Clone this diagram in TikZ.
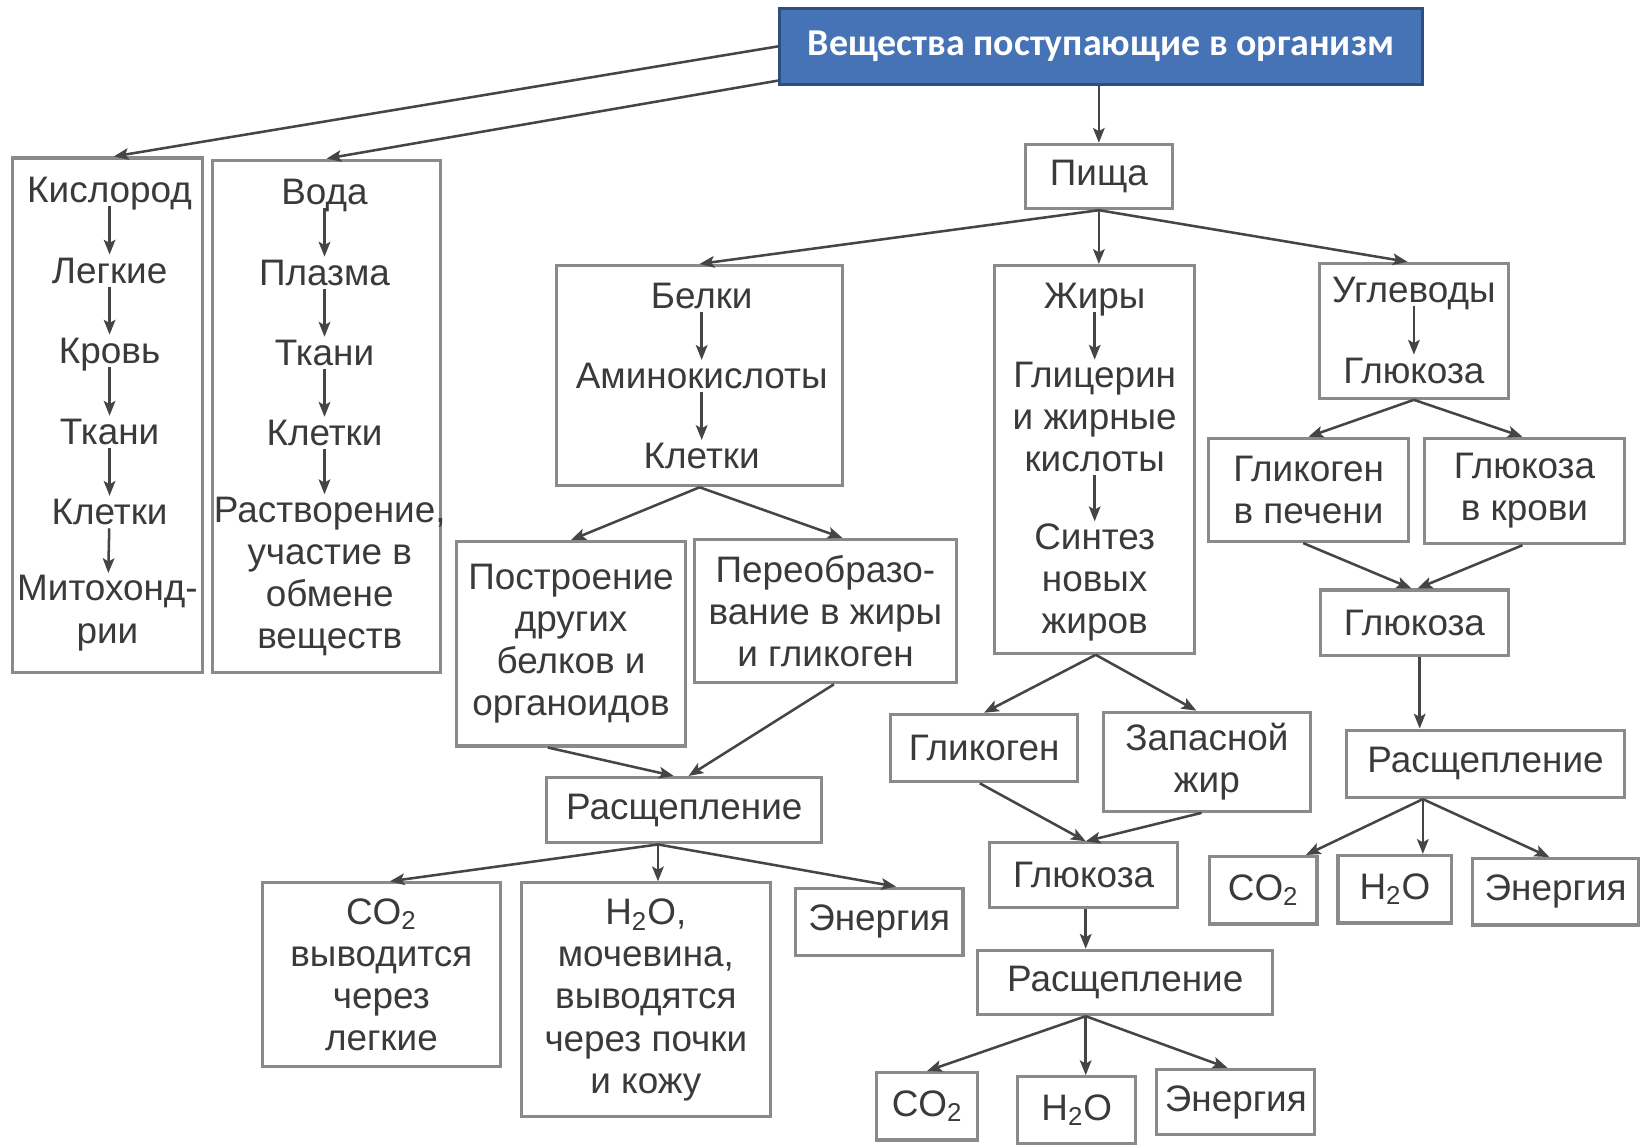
\documentclass[tikz,border=0pt]{standalone}
\usepackage{fontspec}
\setmainfont{Liberation Sans}
\newfontfamily\topfont{Carlito}
\usetikzlibrary{arrows.meta,calc}
\definecolor{bord}{HTML}{8A8A8A}
\definecolor{txt}{HTML}{3A3A3A}
\definecolor{arr}{HTML}{454545}
\definecolor{topfill}{HTML}{4673B6}
\definecolor{topdraw}{HTML}{2E4E7E}
\newcommand\mkbox[7]{\node[bx,#1,minimum width={(#5-#3)*0.5pt},minimum height={(#6-#4)*0.5pt}] (#2) at ({(#3+#5)/2},{(#4+#6)/2}) {#7};}
\begin{document}
\begin{tikzpicture}[x=0.5pt,y=-0.5pt,
 bx/.style={draw=bord,line width=1.5pt,inner sep=0pt,text=txt,align=center,font=\fontsize{17.5}{20}\selectfont},
 lbl/.style={inner sep=1pt,text=txt,align=center,font=\fontsize{17.5}{20}\selectfont},
 one/.style={lbl,text height=12.5pt,text depth=0.5pt},
 ar/.style={draw=arr,line width=1.2pt,-{Stealth[length=7pt,width=5.5pt,inset=1.5pt]}},
 topbx/.style={fill=topfill,draw=topdraw,line width=1.5pt,text=white,font=\topfont\bfseries\fontsize{18}{20}\selectfont},
]
\useasboundingbox (0,0) rectangle (1568,1087);
\fill[white] (0,0) rectangle (1568,1087);

% top
\mkbox{topbx}{top}{740}{8}{1350}{80}{Вещества поступающие в организм}

% oxygen column
\mkbox{}{kis}{12}{150}{192}{638}{}
\node[one] (k1) at (104,180) {Кислород};
\node[one] (k2) at (104,257) {Легкие};
\node[one] (k3) at (104,333) {Кровь};
\node[one] (k4) at (104,410) {Ткани};
\node[one] (k5) at (104,486) {Клетки};
\node[lbl] (k6) at (102,582) {Митохонд-\\рии};
\draw[ar] (k1) -- (k2);
\draw[ar] (k2) -- (k3);
\draw[ar] (k3) -- (k4);
\draw[ar] (k4) -- (k5);
\draw[ar] (k5) -- (k6);

% water column
\mkbox{}{vod}{202}{152}{418}{638}{}
\node[one] (v1) at (308,182) {Вода};
\node[one] (v2) at (308,259) {Плазма};
\node[one] (v3) at (308,335) {Ткани};
\node[one] (v4) at (308,411) {Клетки};
\node[lbl] (v5) at (313,547) {Растворение,\\участие в\\обмене\\веществ};
\draw[ar] (v1) -- (v2);
\draw[ar] (v2) -- (v3);
\draw[ar] (v3) -- (v4);
\draw[ar] (v4) -- (v4 |- v5.north);

\draw[ar] (top.west) -- ($(kis.north)+(6,0)$);
\draw[ar] ($(top.south west)+(0,-5)$) -- (vod.north);

% food
\mkbox{}{pis}{973}{137}{1113}{198}{Пища}
\draw[ar] (top.south -| pis.north) -- (pis.north);

% proteins
\mkbox{}{bel}{528}{252}{800}{461}{}
\node[one] (b1) at (666,281) {Белки};
\node[one] (b2) at (666,357) {Аминокислоты};
\node[one] (b3) at (666,433) {Клетки};
\draw[ar] (b1) -- (b2);
\draw[ar] (b2) -- (b3);

% fats
\mkbox{}{zir}{944}{252}{1134}{620}{}
\node[one] (z1) at (1039,281) {Жиры};
\node[lbl] (z2) at (1039,396) {Глицерин\\и жирные\\кислоты};
\node[lbl] (z3) at (1039,553) {Синтез\\новых\\жиров};
\draw[ar] (z1) -- (z2);
\draw[ar] (z2) -- (z3);

% carbs
\mkbox{}{ugl}{1252}{250}{1432}{378}{}
\node[one] (u1) at (1342,275) {Углеводы};
\node[one] (u2) at (1342,352) {Глюкоза};
\draw[ar] (u1) -- (u2);

\draw[ar] (pis.south) -- (bel.north);
\draw[ar] (pis.south) -- (pis.south |- zir.north);
\draw[ar] (pis.south) -- ($(ugl.north)+(-6,0)$);

% protein branch
\mkbox{}{pos}{433}{514}{651}{708}{Построение\\других\\белков и\\органоидов}
\mkbox{}{per}{659}{512}{908}{648}{Переобразо-\\вание в жиры\\и гликоген}
\draw[ar] (bel.south) -- (pos.north);
\draw[ar] (bel.south) -- ($(per.north)+(16,0)$);
\mkbox{}{ra1}{519}{738}{780}{800}{Расщепление}
\draw[ar] ($(pos.south)+(-22,0)$) -- ($(ra1.north)+(-10,0)$);
\draw[ar] ($(per.south)+(8,0)$) -- ($(ra1.north)+(4,0)$);
\mkbox{}{c1}{249}{838}{475}{1012}{CO\textsubscript{2}\\выводится\\через\\легкие}
\mkbox{}{h1}{495}{838}{731}{1060}{H\textsubscript{2}O,\\мочевина,\\выводятся\\через почки\\и кожу}
\mkbox{}{e1}{755}{843}{914}{907}{Энергия}
\coordinate (o1) at ($(ra1.south)+(-25,0)$);
\draw[ar] (o1) -- ($(c1.north)+(8,0)$);
\draw[ar] (o1) -- (o1 |- h1.north);
\draw[ar] (o1) -- ($(e1.north)+(16,0)$);

% fat branch
\mkbox{}{gl2}{845}{678}{1023}{742}{Гликоген}
\mkbox{}{zap}{1047}{676}{1244}{770}{Запасной\\жир}
\draw[ar] ($(zir.south)+(1,0)$) -- (gl2.north);
\draw[ar] ($(zir.south)+(1,0)$) -- ($(zap.north)+(-10,0)$);
\mkbox{}{gk2}{939}{800}{1118}{861}{Глюкоза}
\draw[ar] ($(gl2.south)+(-4,0)$) -- ($(gk2.north)+(2,0)$);
\draw[ar] ($(zap.south)+(-5,0)$) -- ($(gk2.north)+(2,0)$);
\mkbox{}{ra2}{928}{902}{1208}{963}{Расщепление}
\coordinate (g2s) at ($(gk2.south)+(2,0)$);
\draw[ar] (g2s) -- (g2s |- ra2.north);
\mkbox{}{c2}{832}{1018}{928}{1082}{CO\textsubscript{2}}
\mkbox{}{h2}{966}{1022}{1078}{1085}{H\textsubscript{2}O}
\mkbox{}{e2}{1098}{1015}{1248}{1077}{Энергия}
\coordinate (o2) at (g2s |- ra2.south);
\draw[ar] (o2) -- (c2.north);
\draw[ar] (o2) -- (o2 |- h2.north);
\draw[ar] (o2) -- ($(e2.north)+(-8,0)$);

% carb branch
\mkbox{}{gp}{1147}{416}{1337}{514}{Гликоген\\в печени}
\mkbox{}{gkr}{1352}{416}{1542}{516}{Глюкоза\\в крови}
\draw[ar] (ugl.south) -- (gp.north);
\draw[ar] (ugl.south) -- ($(gkr.north)+(-2,0)$);
\mkbox{}{gk3}{1253}{560}{1432}{622}{Глюкоза}
\draw[ar] ($(gp.south)+(-5,0)$) -- ($(gk3.north)+(-3,0)$);
\draw[ar] ($(gkr.south)+(-2,0)$) -- ($(gk3.north)+(3,0)$);
\mkbox{}{ra3}{1278}{693}{1542}{757}{Расщепление}
\coordinate (g3s) at ($(gk3.south)+(5,0)$);
\draw[ar] (g3s) -- (g3s |- ra3.north);
\mkbox{}{c3}{1148}{813}{1250}{877}{CO\textsubscript{2}}
\mkbox{}{h3}{1270}{812}{1378}{876}{H\textsubscript{2}O}
\mkbox{}{e3}{1398}{815}{1555}{878}{Энергия}
\coordinate (o3) at ($(g3s |- ra3.south)+(3,0)$);
\draw[ar] (o3) -- ($(c3.north east)+(-12,0)$);
\draw[ar] (o3) -- (o3 |- h3.north);
\draw[ar] (o3) -- ($(e3.north)+(-6,0)$);
\end{tikzpicture}
\end{document}
